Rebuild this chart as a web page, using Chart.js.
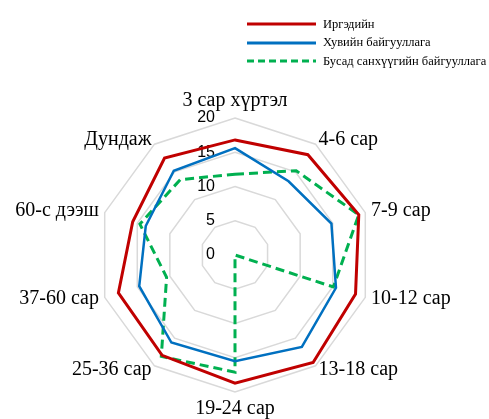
<!DOCTYPE html>
<html>
<head>
<meta charset="utf-8">
<script src="https://cdn.jsdelivr.net/npm/chart.js@4"></script>
<style>
    html, body { margin: 0; padding: 0; background: #fff; }
    #wrap { position: relative; width: 489px; height: 419px; overflow: hidden; }
    #legend { position: absolute; left: 247px; top: 15px; font-family: 'Liberation Serif', serif; font-size: 12.5px; color: #000; }
    .lg-row { display: flex; align-items: center; height: 18.5px; white-space: nowrap; }
    .lg-row svg { margin-right: 7px; }
</style>
</head>
<body>
<div id="wrap">
    <canvas id="radar" width="489" height="419"></canvas>
    <div id="legend"></div>
</div>
<script>
const categories = ['3 сар хүртэл', '4-6 сар', '7-9 сар', '10-12 сар', '13-18 сар', '19-24 сар', '25-36 сар', '37-60 сар', '60-с дээш', 'Дундаж'];
const seriesNames = ['Иргэдийн', 'Хувийн байгууллага', 'Бусад санхүүгийн байгууллага'];
const citizens = [16.8, 18.1, 19.0, 18.5, 19.4, 18.7, 18.1, 17.9, 15.7, 17.5];
const privateOrgs = [15.6, 13.3, 14.8, 15.5, 16.6, 15.5, 15.8, 14.7, 13.7, 15.2];
const otherFinancial = [11.8, 15.2, 19.0, 15.1, 0, 17.1, 18.3, 10.5, 14.6, 13.6];
const tickValues = [0, 5, 10, 15, 20];

const colors = ['#c00000', '#0070c0', '#00b050'];
const dashes = [[], [], [9, 5]];
const widths = [3, 2.5, 3];

// Legend (stacked in the top-right corner)
const legendEl = document.getElementById('legend');
seriesNames.forEach((name, i) => {
    const row = document.createElement('div');
    row.className = 'lg-row';
    const dash = dashes[i].length ? `stroke-dasharray="7 4"` : '';
    row.innerHTML = `<svg width="69" height="6"><line x1="0" y1="3" x2="69" y2="3" stroke="${colors[i]}" stroke-width="3" ${dash}/></svg><span>${name}</span>`;
    legendEl.appendChild(row);
});

// Tick labels sit left of the vertical axis, right-aligned
const tickLabelPlugin = {
    id: 'tickLabels',
    beforeDatasetsDraw(chart) {
        const scale = chart.scales.r;
        const ctx = chart.ctx;
        ctx.save();
        ctx.font = "16px 'Liberation Sans', Arial, sans-serif";
        ctx.fillStyle = '#000';
        ctx.textAlign = 'right';
        ctx.textBaseline = 'middle';
        tickValues.forEach(v => {
            const d = scale.getDistanceFromCenterForValue(v);
            ctx.fillText(String(v), scale.xCenter - 20, scale.yCenter - d);
        });
        ctx.restore();
    }
};

// Category labels, placed like Excel does (vertically centred on the side spokes)
const pointLabelPlugin = {
    id: 'categoryLabels',
    afterDatasetsDraw(chart) {
        const scale = chart.scales.r;
        const ctx = chart.ctx;
        ctx.save();
        ctx.font = "20px 'Liberation Serif', 'Times New Roman', serif";
        ctx.fillStyle = '#000';
        ctx.textBaseline = 'middle';
        categories.forEach((label, i) => {
            const s = Math.sin(scale.getIndexAngle(i));
            let pad = 5;
            if (Math.abs(s) < 0.1) pad = 17;
            else if (Math.abs(s) > 0.9) pad = 6;
            const p = scale.getPointPosition(i, scale.drawingArea + pad);
            ctx.textAlign = Math.abs(s) < 0.1 ? 'center' : (s > 0 ? 'left' : 'right');
            ctx.fillText(label, p.x, p.y);
        });
        ctx.restore();
    }
};

const datasets = [citizens, privateOrgs, otherFinancial].map((data, i) => ({
    label: seriesNames[i],
    data: data,
    borderColor: colors[i],
    backgroundColor: 'transparent',
    borderWidth: widths[i],
    borderDash: dashes[i],
    pointRadius: 0,
    fill: false,
    tension: 0
}));

new Chart(document.getElementById('radar'), {
    type: 'radar',
    data: { labels: categories, datasets: datasets },
    plugins: [tickLabelPlugin, pointLabelPlugin],
    options: {
        responsive: false,
        animation: false,
        layout: { padding: { top: 118, bottom: 27, left: 98, right: 117 } },
        plugins: {
            legend: { display: false },
            tooltip: { enabled: false }
        },
        scales: {
            r: {
                min: 0,
                max: 20,
                ticks: { stepSize: 5, display: false },
                grid: { color: '#d9d9d9', lineWidth: 1.5 },
                angleLines: { display: false },
                pointLabels: { display: false }
            }
        }
    }
});
</script>
</body>
</html>
